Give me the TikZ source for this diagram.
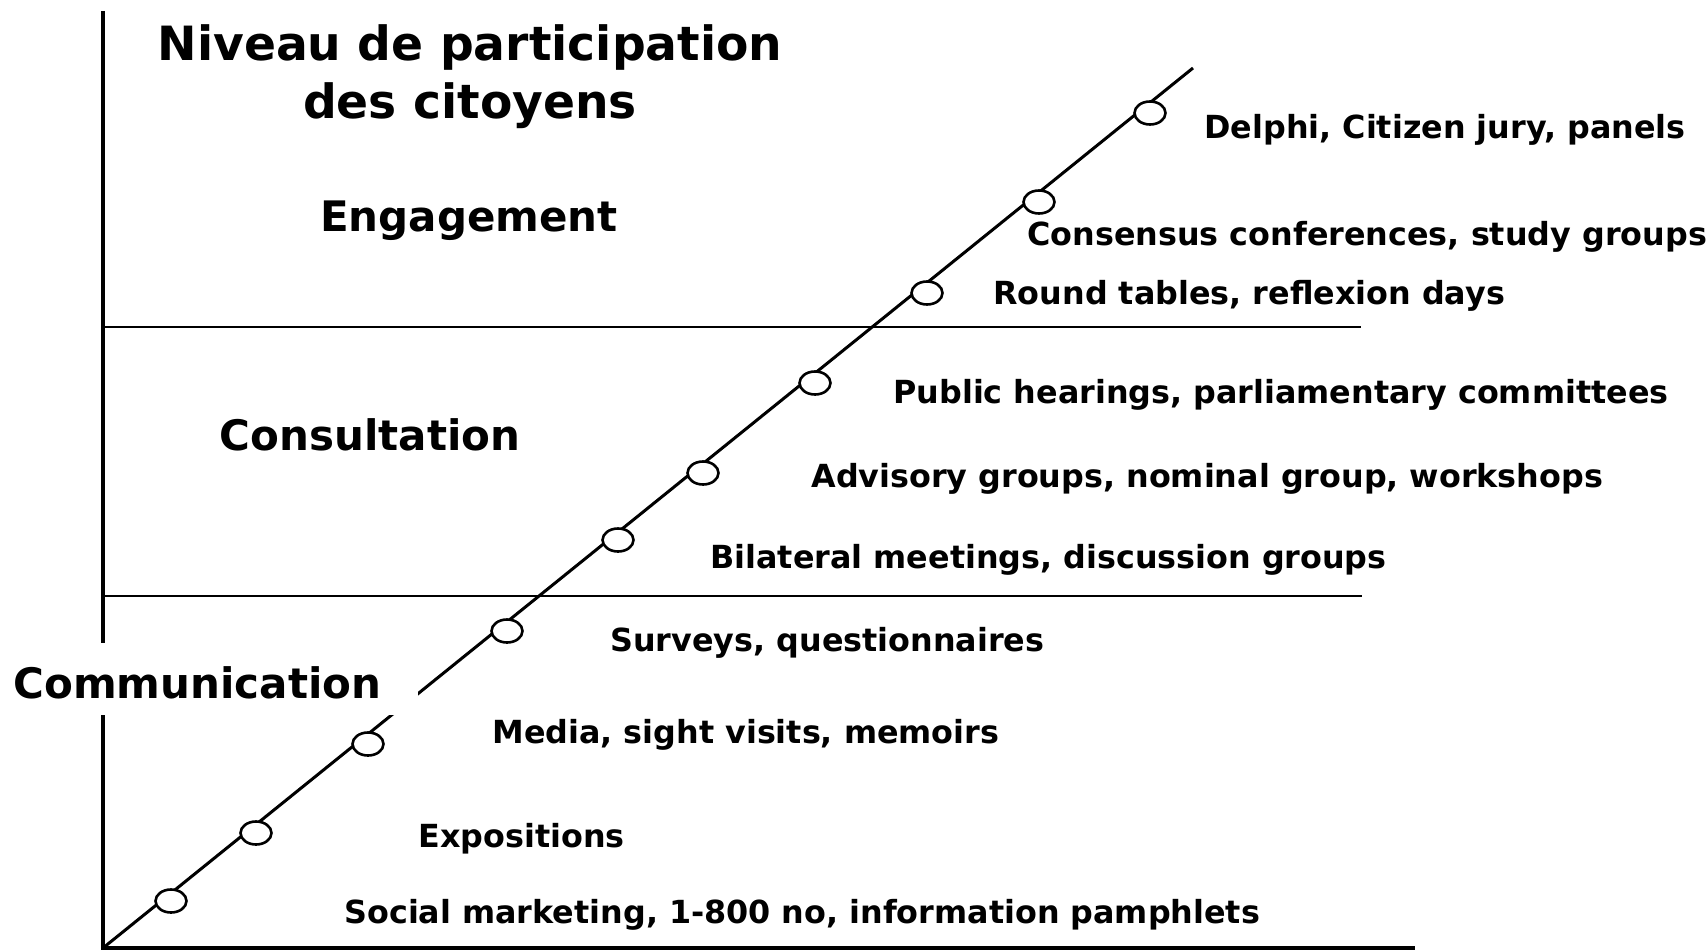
\documentclass[tikz,border=0pt]{standalone}
\usepackage{fontspec}
\setmainfont{DejaVu Sans}
\usetikzlibrary{shapes.geometric}
\begin{document}
\begin{tikzpicture}[x=0.5pt,y=-0.5pt,
  axis/.style={line width=1.7pt},
  band/.style={line width=1.1pt},
  dot/.style={ellipse,draw,fill=white,line width=1.3pt,minimum width=15.5pt,minimum height=11.5pt,inner sep=0pt},
  item/.style={anchor=west,inner sep=0pt,font=\bfseries\fontsize{15.9}{18}\selectfont},
  level/.style={inner sep=0pt,font=\bfseries\fontsize{21}{25}\selectfont},
  ttl/.style={inner sep=0pt,align=center,font=\bfseries\fontsize{23.6}{29}\selectfont}]
\useasboundingbox[fill=white] (0,0) rectangle (1707,952);
% axes
\coordinate (O) at (103,948);
\coordinate (Ytop) at (103,11);
\coordinate (Xend) at (1415,948);
\coordinate (Dtop) at (1193,68);
\draw[axis] (Ytop) -- (O) -- (Xend);
% level separators
\coordinate (u1) at (102,327); \coordinate (u2) at (967,327); \coordinate (u3) at (1361,327);
\draw[band] (u1) -- (u2);
\draw[line width=0.6pt] (u2) -- (u3);
\coordinate (l1) at (102,596); \coordinate (l2) at (1362,596);
\draw[band] (l1) -- (l2);
% diagonal
\draw[line width=1.5pt] (O) -- (Dtop);
% communication label with white patch
\fill[white] (0,643) rectangle (418,715);
\node[level,anchor=west] (comm) at (13,683) {Communication};
\node[level] (cons) at (370,435) {Consultation};
\node[level] (eng) at (469,221) {Engagement};
\node[ttl] (title) at (470,77) {Niveau de participation\\des citoyens};
% dots
\node[dot] (c1) at (171,901) {};
\node[dot] (c2) at (256,833) {};
\node[dot] (c3) at (368,744) {};
\node[dot] (c4) at (507,631) {};
\node[dot] (c5) at (618,540) {};
\node[dot] (c6) at (703,473) {};
\node[dot] (c7) at (815,383) {};
\node[dot] (c8) at (927,293) {};
\node[dot] (c9) at (1039,202) {};
\node[dot] (c10) at (1150,113) {};
% items
\node[item] (t10) at (1204,130) {Delphi, Citizen jury, panels};
\node[item] (t9) at (1027,237) {Consensus conferences, study groups};
\node[item] (t8) at (993,296) {Round tables, reflexion days};
\node[item] (t7) at (893,395) {Public hearings, parliamentary committees};
\node[item] (t6) at (811,479) {Advisory groups, nominal group, workshops};
\node[item] (t5) at (710,560) {Bilateral meetings, discussion groups};
\node[item] (t4) at (610,643) {Surveys, questionnaires};
\node[item] (t3) at (492,735) {Media, sight visits, memoirs};
\node[item] (t2) at (418,839) {Expositions};
\node[item] (t1) at (344,915) {Social marketing, 1-800 no, information pamphlets};
\end{tikzpicture}
\end{document}
